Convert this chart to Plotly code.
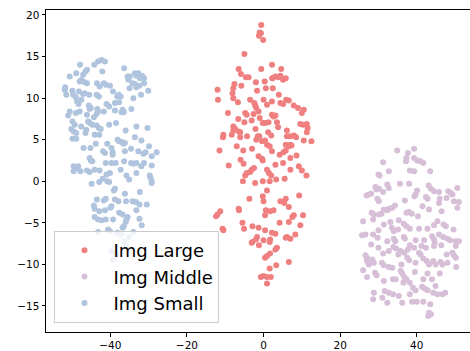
import plotly.graph_objects as go

# t-SNE embedding coordinates for the three image-size groups
large_x = [-0.6, -1.0, -1.2, -0.7, -0.1, -5.0, -6.5, -5.9, -4.6, -3.9, -0.6, 2.2, 2.3, 4.6,
           3.1, 3.9, 4.4, 5.1, 5.8, 2.3, 0.3, -2.0, -7.6, -7.9, -8.1, -7.9, -12.0, -11.9,
           -5.8, 0.6, 2.4, -1.7, 4.0, -3.5, -2.4, -2.2, -1.9, -6.7, 0.0, 0.9, 2.2, 4.4,
           5.1, 5.9, 6.6, 7.9, 9.0, 10.5, 10.0, -9.3, -4.8, -4.4, -1.3, -1.0, 2.2, 2.6,
           3.1, 1.3, 0.4, -0.2, -6.6, -5.0, -3.1, -7.9, -7.4, -2.1, -7.9, -6.5, -6.1, 3.5,
           6.1, 6.1, 7.0, 7.9, 8.5, 9.6, 11.3, 11.5, 10.3, 11.3, 12.5, 10.5, -10.5, -10.6,
           -8.3, -6.1, -4.3, -1.5, -1.1, 2.0, -1.9, -0.4, 0.4, -7.0, -5.3, -11.5, 0.9, 1.6,
           2.2, 5.8, 7.0, 6.6, 7.3, 5.8, 5.2, 4.2, 7.0, -1.3, -0.4, -0.2, 5.1, 3.1, -5.2,
           -9.1, -2.5, -3.1, -3.5, -4.4, -4.8, 0.9, 1.4, 9.2, 10.0, 11.2, 7.0, 2.0, 3.3,
           5.5, -5.4, -2.2, -0.2, 1.6, 9.3, 0.9, -3.7, -0.2, 0.0, 5.8, 5.4, 4.4, 6.6, -6.5,
           -6.4, -11.3, -12.0, -12.4, 0.6, 1.7, 2.6, 0.4, 7.9, 7.5, 10.3, -5.5, -2.9, 4.2,
           6.6, 9.6, -10.7, -10.5, -5.1, -1.3, 0.4, 2.2, 3.1, 6.1, 7.0, 5.8, 8.3, -1.7,
           -2.0, -2.9, -3.1, 1.7, 1.6, 0.0, -1.2, 3.5, 3.1, 1.7, 0.9, 0.4, 6.6, 3.3, 1.6,
           -0.7, 0.0, 0.9, 1.9, 0.9, -3.0, 3.8, -6.0, 8.6, -2.6, 1.2]
large_y = [18.8, 17.9, 17.5, 17.8, 17.0, 15.3, 13.5, 12.9, 12.5, 12.5, 13.5, 14.0, 12.4, 13.5,
           12.6, 12.5, 12.7, 12.2, 12.4, 12.4, 12.0, 11.9, 11.7, 11.2, 10.6, 10.0, 11.0, 9.8,
           11.5, 11.2, 11.2, 10.9, 10.4, 9.8, 9.4, 9.1, 8.8, 9.5, 9.8, 9.2, 9.6, 9.4,
           9.3, 9.8, 9.7, 9.1, 8.8, 8.6, 8.2, 8.2, 8.2, 8.0, 8.4, 7.6, 8.0, 7.8,
           7.9, 7.1, 7.0, 7.0, 7.5, 7.1, 7.3, 6.6, 6.3, 6.3, 6.1, 6.0, 5.9, 7.1,
           6.1, 5.4, 5.4, 5.5, 5.3, 6.9, 6.9, 6.4, 6.8, 5.9, 4.8, 4.9, 5.6, 5.3,
           5.6, 5.3, 5.4, 5.4, 5.4, 5.5, 5.0, 4.8, 4.9, 4.2, 3.7, 3.7, 4.4, 4.2,
           3.6, 4.4, 4.4, 4.2, 4.3, 3.7, 3.5, 3.2, 2.8, 3.0, 2.7, 2.5, 2.2, 2.0, 2.1,
           1.9, 1.6, 1.4, 1.1, 1.0, 0.7, 1.4, 1.0, 1.8, 1.3, 0.7, 1.4, 0.7, 0.2,
           0.3, 0.0, -0.2, 0.0, 0.0, -1.7, -1.1, -2.1, -1.8, -2.4, -2.1, -2.6, -2.4, -3.1, -3.3,
           -3.5, -3.6, -4.0, -4.2, -3.5, -3.6, -3.5, -4.1, -4.1, -4.3, -4.1, -5.0, -5.4, -5.0,
           -4.9, -5.3, -5.7, -5.9, -5.7, -5.6, -5.9, -6.2, -6.3, -6.7, -6.9, -6.8, -6.4, -6.7,
           -7.0, -7.3, -7.4, -7.0, -7.3, -7.1, -7.7, -8.0, -8.2, -8.7, -9.0, -9.2, -9.7, -10.1, -10.5,
           -11.5, -11.4, -11.5, -11.5, -12.3, 3.9, 6.5, 2.6, 3.1, 8.1, 5.9]

middle_x = [34.9, 39.3, 37.7, 37.3, 37.2, 39.3, 40.1, 41.0, 41.7, 31.2, 30.0, 30.3, 32.7,
            38.2, 39.3, 43.5, 35.6, 38.0, 43.1, 43.7, 44.5, 45.8, 48.2, 48.9, 49.3, 50.6,
            29.2, 29.5, 30.1, 26.9, 27.5, 28.1, 32.3, 32.7, 31.2, 29.7, 30.1, 40.1, 39.7,
            39.4, 42.8, 42.4, 36.9, 46.0, 45.8, 47.8, 49.7, 51.0, 34.3, 33.6, 31.4, 32.3,
            32.7, 28.2, 28.8, 30.1, 30.8, 37.3, 37.9, 38.7, 40.3, 43.2, 50.6, 26.0, 28.6,
            33.1, 35.3, 31.4, 36.6, 37.3, 38.2, 45.4, 44.5, 47.0, 47.6, 35.1, 30.0, 40.6,
            42.8, 49.6, 25.7, 26.6, 28.6, 34.0, 34.4, 32.3, 36.6, 36.9, 39.7, 41.9, 44.0,
            44.5, 44.7, 45.8, 46.9, 48.0, 48.7, 50.2, 51.0, 30.0, 28.1, 33.9, 34.6, 38.2,
            39.3, 41.2, 42.4, 44.5, 46.4, 37.7, 32.7, 31.2, 35.8, 36.8, 35.2, 40.6, 41.0,
            50.2, 49.3, 49.7, 50.2, 47.8, 26.6, 27.0, 28.4, 28.8, 27.5, 27.0, 30.9, 31.4,
            32.7, 33.6, 37.5, 38.0, 39.7, 41.7, 42.6, 43.2, 44.3, 44.9, 46.2, 46.7, 48.0,
            50.3, 26.0, 29.1, 29.5, 35.8, 36.2, 39.5, 42.8, 46.0, 33.8, 34.5, 36.7, 37.3,
            27.0, 31.4, 36.5, 38.2, 41.7, 44.9, 41.4, 42.1, 42.8, 44.3, 45.4, 46.7, 47.4,
            28.8, 31.6, 32.7, 33.8, 35.3, 38.2, 39.7, 31.0, 28.6, 32.3, 36.2, 38.8, 40.0,
            41.7, 43.5, 43.2, 43.0, 43.7, 34.0, 41.5, 46.5, 29.8, 36.0, 44.0, 33.5, 39.0]
middle_y = [3.7, 3.9, 3.4, 2.8, 2.4, 2.8, 2.5, 2.4, 2.2, 2.3, 0.8, 0.7, 1.2,
            1.3, 1.2, 1.2, -0.3, -0.3, -0.5, -0.9, -1.2, -1.3, -1.2, -1.4, -1.6, -0.8,
            -0.7, -1.0, -0.9, -1.7, -1.6, -1.5, -0.4, -0.8, -1.3, -2.1, -2.4, -1.1, -1.6,
            -1.8, -2.1, -1.9, -2.3, -2.1, -2.6, -2.0, -2.4, -2.5, -2.9, -3.2, -3.4, -3.5,
            -3.3, -3.8, -4.0, -4.0, -3.9, -3.8, -3.7, -3.9, -4.2, -3.4, -3.2, -4.8, -4.6,
            -4.9, -4.7, -5.2, -5.1, -5.4, -5.7, -4.8, -5.3, -5.2, -5.4, -5.8, -5.9, -5.7,
            -5.7, -5.8, -6.5, -6.4, -6.4, -6.9, -7.2, -7.2, -6.7, -6.9, -7.1, -7.1, -6.6,
            -7.0, -7.4, -6.4, -6.7, -6.9, -7.1, -7.2, -7.2, -8.0, -7.6, -7.9, -8.1, -7.7,
            -8.0, -7.8, -8.0, -7.8, -7.7, -8.2, -8.4, -8.7, -8.4, -8.6, -8.8, -8.6, -8.8,
            -7.8, -8.6, -8.9, -9.2, -8.8, -8.9, -9.2, -9.4, -9.8, -10.0, -9.6, -9.8, -10.1,
            -10.3, -10.4, -9.2, -9.5, -9.8, -9.3, -9.6, -10.0, -9.6, -10.0, -9.7, -10.0, -9.8,
            -10.3, -10.7, -11.0, -11.3, -10.8, -11.1, -10.9, -11.1, -11.1, -11.8, -11.8, -11.5, -11.8,
            -11.5, -12.0, -12.2, -12.2, -11.8, -12.6, -12.7, -12.9, -13.1, -13.4, -13.6, -13.6, -13.4,
            -13.4, -13.2, -13.4, -13.6, -13.8, -13.6, -13.1, -14.0, -14.2, -14.6, -14.6, -14.5, -14.5,
            -14.5, -14.8, -15.8, -16.2, -16.0, -6.0, -3.0, -3.6, -6.8, -10.0, -11.8, -5.6, -12.8]

small_x = [-47.9, -50.6, -48.9, -46.5, -46.1, -47.1, -48.0, -47.6, -46.7, -46.1, -44.2, -43.2,
           -42.3, -41.4, -42.1, -43.5, -42.8, -41.7, -41.2, -40.1, -36.4, -35.5, -35.3, -34.9,
           -33.6, -33.2, -32.7, -32.3, -31.7, -31.2, -34.2, -33.2, -32.5, -33.6, -31.2, -30.1,
           -35.0, -51.8, -51.9, -51.5, -49.9, -49.7, -49.0, -48.2, -47.1, -46.7, -45.5, -43.6,
           -43.0, -39.3, -38.2, -37.8, -37.3, -34.0, -32.0, -48.7, -48.3, -47.6, -41.0, -38.8,
           -37.7, -50.6, -51.0, -49.0, -48.0, -45.6, -45.4, -45.1, -43.2, -43.4, -43.6, -44.3,
           -41.7, -40.3, -38.8, -36.8, -36.5, -37.1, -46.1, -49.9, -49.3, -47.6, -45.8, -45.4,
           -44.7, -43.6, -43.0, -42.5, -46.3, -40.3, -50.2, -49.6, -48.9, -46.5, -44.1, -42.9,
           -36.0, -33.2, -30.3, -49.9, -48.9, -38.1, -37.7, -36.9, -36.6, -36.2, -33.6, -31.9,
           -43.8, -40.8, -39.7, -47.0, -45.2, -29.9, -27.9, -41.9, -41.4, -39.4, -39.4, -36.2,
           -34.6, -32.7, -31.4, -30.8, -29.2, -45.4, -45.1, -44.7, -41.2, -39.7, -38.6, -36.4,
           -34.6, -34.0, -33.2, -31.2, -31.9, -29.2, -49.6, -48.4, -48.7, -49.6, -47.8, -46.1,
           -45.4, -44.1, -42.8, -37.3, -41.0, -40.1, -35.8, -33.2, -29.7, -29.5, -29.2, -29.2,
           -35.1, -40.8, -40.3, -42.9, -44.9, -38.8, -39.1, -36.2, -32.3, -41.2, -41.7, -43.5,
           -38.8, -37.9, -35.9, -34.2, -33.3, -30.5, -32.4, -44.3, -44.1, -39.7, -40.0, -37.7,
           -36.8, -33.2, -41.4, -42.9, -44.1, -43.2, -42.3, -41.2, -39.3, -35.5, -35.8, -36.0,
           -32.4, -36.8, -36.5, -31.8, -40.6, -40.1, -43.2, -38.2, -34.0, -35.1, -37.1, -39.7,
           -38.8, -38.4, -36.4, -35.8, -39.3, -42.0, -38.5, -34.5]
small_y = [14.0, 12.6, 13.0, 13.2, 13.4, 12.8, 12.0, 12.2, 11.9, 11.8, 14.0, 14.4,
           14.6, 14.4, 13.2, 11.8, 11.4, 11.8, 11.6, 11.5, 13.6, 12.6, 12.2, 12.6,
           13.0, 12.7, 13.0, 12.4, 12.7, 12.4, 11.8, 11.3, 11.5, 11.7, 11.8, 10.9,
           11.2, 11.3, 11.0, 10.4, 10.9, 10.4, 10.1, 10.8, 10.5, 10.6, 10.4, 10.4,
           10.2, 10.8, 10.2, 10.4, 10.2, 10.0, 10.4, 9.6, 9.3, 9.8, 9.3, 9.4,
           9.5, 8.4, 7.9, 8.2, 8.4, 9.1, 8.7, 8.8, 8.4, 8.7, 8.1, 7.7,
           8.4, 9.0, 8.5, 8.6, 8.3, 8.3, 8.0, 7.2, 6.8, 6.6, 7.2, 7.0,
           6.8, 6.7, 6.4, 6.3, 6.2, 6.8, 6.3, 6.0, 5.8, 5.8, 5.6, 5.6,
           6.1, 6.6, 6.4, 5.1, 5.1, 5.0, 4.8, 4.7, 4.5, 4.6, 5.3, 4.9,
           4.5, 4.5, 4.0, 4.0, 4.0, 4.2, 3.5, 3.6, 3.4, 3.5, 3.2, 3.6,
           3.9, 3.6, 3.3, 3.5, 3.0, 2.8, 2.5, 2.4, 2.2, 2.2, 2.2, 2.4,
           2.2, 2.1, 2.2, 2.2, 1.8, 1.9, 1.8, 1.8, 1.5, 1.2, 1.2, 1.3,
           1.1, 1.4, 1.3, 1.4, 0.8, 1.0, 0.7, 1.0, 0.7, 0.4, 0.0, -0.2,
           0.2, 0.0, -0.1, -0.1, -0.3, -0.9, -1.1, -1.5, -1.3, -2.1, -2.3, -2.2,
           -2.2, -2.4, -2.4, -2.4, -2.5, -2.8, -2.8, -2.9, -3.3, -3.0, -3.2, -3.8,
           -4.0, -3.5, -3.5, -3.6, -4.3, -4.6, -4.7, -4.6, -4.6, -4.3, -4.6, -4.9,
           -4.5, -5.6, -5.4, -5.3, -5.8, -6.0, -6.1, -6.2, -6.1, -6.7, -6.4, -8.4,
           -8.6, -8.9, -7.2, -7.8, -9.4, 0.3, 7.0, 8.7]

series = [
    ("Img Large", large_x, large_y, "#f08080"),
    ("Img Middle", middle_x, middle_y, "#d8bfd8"),
    ("Img Small", small_x, small_y, "#b0c4de"),
]

fig = go.Figure()
for name, xs, ys, color in series:
    fig.add_trace(go.Scatter(
        x=xs, y=ys, mode="markers", name=name,
        marker=dict(size=6, color=color, line=dict(width=0)),
    ))

axis_common = dict(
    showgrid=False, zeroline=False, automargin=False,
    showline=True, linecolor="black", linewidth=1,
    ticks="outside", ticklen=3.5, tickwidth=1, tickcolor="black",
    tickfont=dict(family="DejaVu Sans", size=10.5, color="black"),
)

fig.update_layout(
    width=470, height=351,
    margin=dict(l=46, r=0, t=10, b=19),
    paper_bgcolor="white", plot_bgcolor="white",
    xaxis=dict(range=[-56.8, 53.9], tickvals=[-40, -20, 0, 20, 40],
               mirror=True, **axis_common),
    yaxis=dict(range=[-18.13, 20.6], tickvals=[-15, -10, -5, 0, 5, 10, 15, 20],
               **axis_common),
    legend=dict(
        x=0.02, y=0.028, xanchor="left", yanchor="bottom",
        bgcolor="rgba(255,255,255,0.8)", bordercolor="#cccccc", borderwidth=1,
        font=dict(family="DejaVu Sans", size=18, color="black"),
        itemwidth=48,
    ),
    showlegend=True,
)

fig.write_html("out.html")
